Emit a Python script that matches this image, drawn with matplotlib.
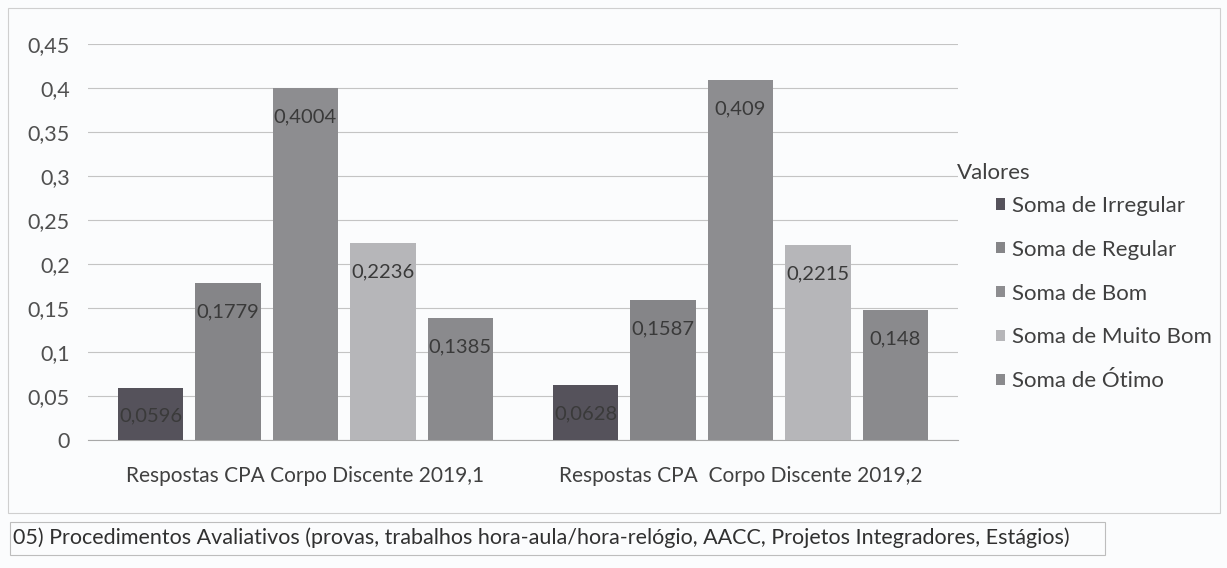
import matplotlib
matplotlib.use("Agg")
import matplotlib.pyplot as plt
from matplotlib.patches import Rectangle
import numpy as np

plt.rcParams["font.family"] = ["Lato", "DejaVu Sans"]

categories = ["Respostas CPA Corpo Discente 2019,1", "Respostas CPA  Corpo Discente 2019,2"]
series_names = ["Soma de Irregular", "Soma de Regular", "Soma de Bom",
                "Soma de Muito Bom", "Soma de Ótimo"]
irregular = [0.0596, 0.0628]
regular = [0.1779, 0.1587]
bom = [0.4004, 0.409]
muito_bom = [0.2236, 0.2215]
otimo = [0.1385, 0.148]
yticks = [0, 0.05, 0.1, 0.15, 0.2, 0.25, 0.3, 0.35, 0.4, 0.45]
ytick_labels = ["0", "0,05", "0,1", "0,15", "0,2", "0,25", "0,3", "0,35", "0,4", "0,45"]
footer = ("05) Procedimentos Avaliativos (provas, trabalhos hora-aula/hora-relógio, "
          "AACC, Projetos Integradores, Estágios)")

series = [irregular, regular, bom, muito_bom, otimo]
colors = ["#55525b", "#858588", "#8d8d90", "#b6b6b9", "#8a8a8d"]


def fmt(v):
    return ("%g" % v).replace(".", ",")


fig = plt.figure(figsize=(12.27, 5.68), dpi=100)
fig.patch.set_facecolor("#fbfcfd")

# outer chart border
fig.patches.append(Rectangle((8 / 1227, 55 / 568), 1212 / 1227, 505 / 568,
                             transform=fig.transFigure, fill=False,
                             edgecolor="#cfcfcf", lw=0.8))

ax = fig.add_axes([88 / 1227, 128 / 568, 870 / 1227, 396 / 568])
ax.set_facecolor("none")

x = np.arange(len(categories))
slot = 0.178
width = 0.15
for i, (vals, name, c) in enumerate(zip(series, series_names, colors)):
    pos = x + (i - 2) * slot
    bars = ax.bar(pos, vals, width, color=c, label=name, zorder=3)
    for b, v in zip(bars, vals):
        ax.text(b.get_x() + b.get_width() / 2, v - 0.023, fmt(v),
                ha="center", va="top", fontsize=14.5, color="#3a3a3a", zorder=4)

ax.set_xlim(-0.5, 1.5)
ax.set_ylim(0, 0.45)
ax.set_yticks(yticks)
ax.set_yticklabels(ytick_labels, fontsize=15.5, color="#505050")
ax.set_xticks(x)
ax.set_xticklabels(categories, fontsize=15, color="#404040")
ax.tick_params(axis="x", length=0, pad=19)
ax.tick_params(axis="y", length=0, pad=13)
ax.grid(axis="y", color="#c4c4c4", lw=0.8, zorder=0)
for s in ["top", "right", "left"]:
    ax.spines[s].set_visible(False)
ax.spines["bottom"].set_color("#a8a8a8")

# legend title drawn on its own, entries indented like the original
fig.text(957 / 1227, 1 - 173 / 568, "Valores", fontsize=16, color="#404040",
         ha="left", va="center")
leg = fig.legend(loc="upper left", bbox_to_anchor=(996 / 1227, 1 - 196 / 568),
                 frameon=False, fontsize=16,
                 handlelength=0.4, handleheight=0.4, handletextpad=0.3,
                 labelspacing=1.07, borderaxespad=0, borderpad=0)
for t in leg.get_texts():
    t.set_color("#404040")

# footer box
fig.patches.append(Rectangle((10 / 1227, 13 / 568), 1095 / 1227, 33 / 568,
                             transform=fig.transFigure, fill=False,
                             edgecolor="#bdbdbd", lw=0.8))
fig.text(13 / 1227, 30 / 568, footer, fontsize=15.5, color="#303030",
         ha="left", va="center")

fig.savefig("out.png", dpi=100, facecolor=fig.get_facecolor())
